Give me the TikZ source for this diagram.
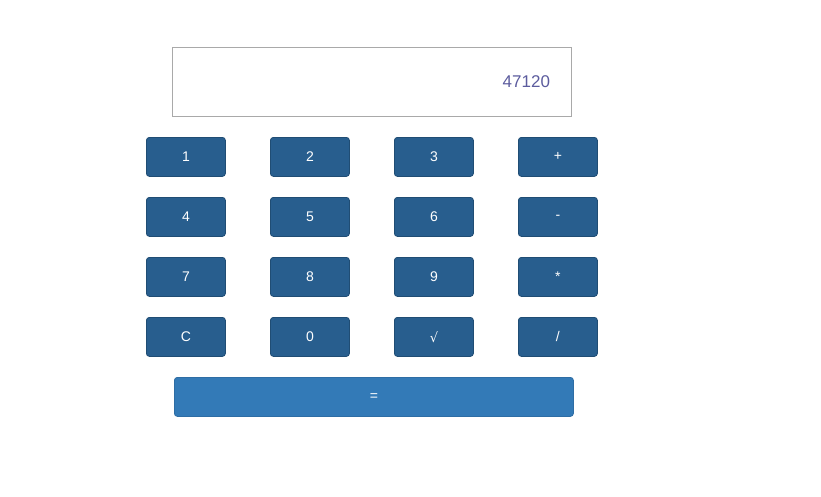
\documentclass[tikz,border=0pt]{standalone}
\usepackage{fontspec}
\setmainfont{Liberation Sans}
\newfontfamily\symfont{DejaVu Sans}
\definecolor{btn}{HTML}{285E8E}
\definecolor{btnborder}{HTML}{204D74}
\definecolor{eqbtn}{HTML}{337AB7}
\definecolor{eqborder}{HTML}{2E6DA4}
\definecolor{disptext}{HTML}{5C5C9E}
\definecolor{dispborder}{HTML}{A9A9A9}
\begin{document}
\begin{tikzpicture}[x=1pt,y=-1pt,
  keybtn/.style={draw=btnborder,fill=btn,rounded corners=3pt,line width=0.8pt,
    minimum width=79pt,minimum height=39pt,inner sep=0pt,text=white,
    font=\fontsize{14}{16}\selectfont,anchor=north west},
  eqkey/.style={draw=eqborder,fill=eqbtn,rounded corners=3pt,line width=0.8pt,
    minimum width=399pt,minimum height=39pt,inner sep=0pt,text=white,
    font=\fontsize{14}{16}\selectfont,anchor=north west},
  display/.style={draw=dispborder,line width=0.8pt,minimum width=399pt,
    minimum height=69pt,inner sep=0pt,anchor=north west}]
\useasboundingbox[fill=white] (0,0) rectangle (821,496);
\node[display] (disp) at (172,47) {};
\node[text=disptext,font=\fontsize{17}{20}\selectfont,anchor=east] (val) at (553.5,82) {47120};
\node[keybtn] (k1) at (146,137) {1};
\node[keybtn] (k2) at (270,137) {2};
\node[keybtn] (k3) at (394,137) {3};
\node[keybtn] (kplus) at (518,137) {+};
\node[keybtn] (k4) at (146,197) {4};
\node[keybtn] (k5) at (270,197) {5};
\node[keybtn] (k6) at (394,197) {6};
\node[keybtn] (kminus) at (518,197) {-};
\node[keybtn] (k7) at (146,257) {7};
\node[keybtn] (k8) at (270,257) {8};
\node[keybtn] (k9) at (394,257) {9};
\node[keybtn] (kmul) at (518,257) {*};
\node[keybtn] (kc) at (146,317) {C};
\node[keybtn] (k0) at (270,317) {0};
\node[keybtn] (ksqrt) at (394,317) {{\symfont\fontsize{13}{16}\selectfont √}};
\node[keybtn] (kdiv) at (518,317) {/};
\node[eqkey] (keq) at (174,377) {=};
\end{tikzpicture}
\end{document}
